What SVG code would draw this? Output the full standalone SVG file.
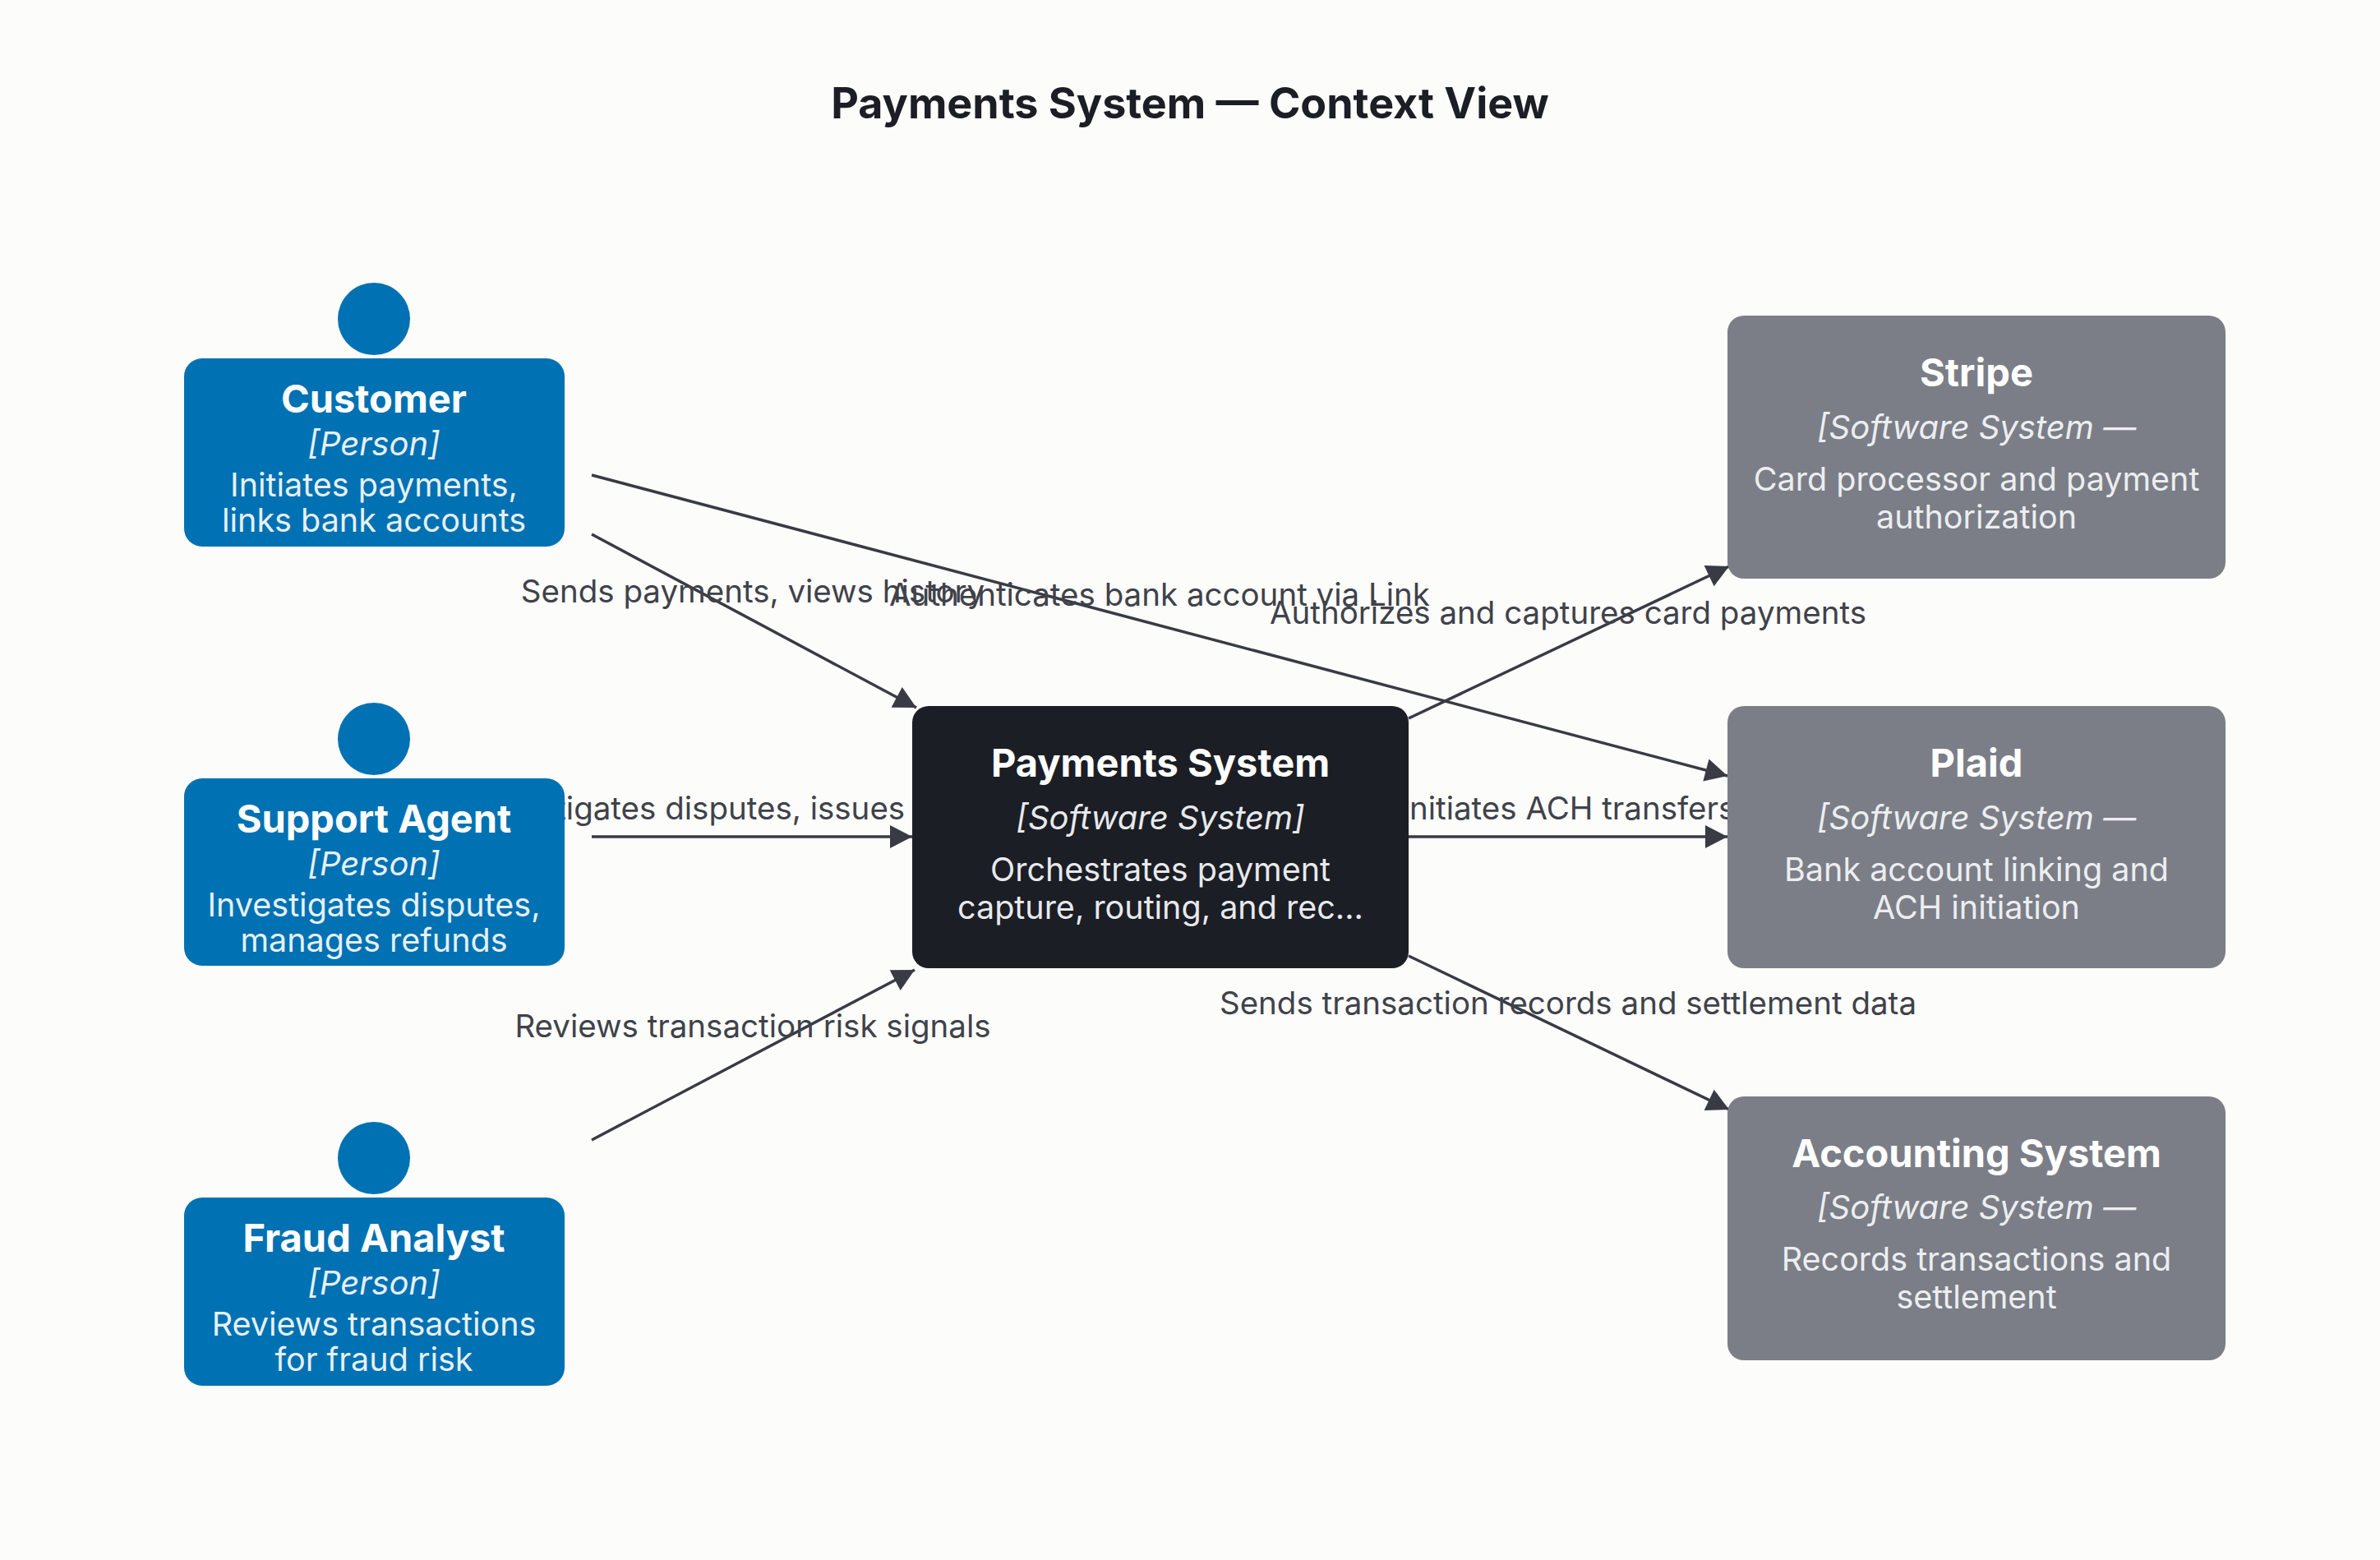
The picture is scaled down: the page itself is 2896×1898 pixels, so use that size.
<svg xmlns="http://www.w3.org/2000/svg" width="2896" height="1898" viewBox="0 0 2896 1898">
<style>
text{font-family:Inter,"Noto Sans","Liberation Sans",sans-serif;text-anchor:middle}
.t{font-size:47px;font-weight:700;fill:#fff}
.s{font-size:40px;font-style:italic}
.d{font-size:39.5px}
.p .s,.p .d{fill:#e6f0f7}
.x .s,.x .d{fill:#eceef0}
.c .s,.c .d{fill:#e8e9ec}
.e{font-size:38.5px;fill:#3f424a}
.ln{stroke:#383b44;stroke-width:3.5;fill:none;marker-end:url(#a)}
</style>
<defs><marker id="a" markerWidth="10" markerHeight="10" refX="9" refY="5" orient="auto" markerUnits="userSpaceOnUse" viewBox="0 0 10 10" style="overflow:visible"><path d="M-18,-9 L9,5 L-18,19 Z" fill="#383b44"/></marker></defs>
<rect width="2896" height="1898" fill="#fcfcfa"/>
<text x="1448" y="144" style="font-size:52px;font-weight:700;fill:#1b1e25">Payments System — Context View</text>
<g id="connectors">
<line class="ln" x1="720" y1="650" x2="1115" y2="861"/>
<text class="e" x="916" y="733">Sends payments, views history</text>
<line class="ln" x1="720" y1="578" x2="2102" y2="944"/>
<text class="e" x="1411" y="737">Authenticates bank account via Link</text>
<text class="e" x="916" y="997">Investigates disputes, issues refunds</text>
<line class="ln" x1="720" y1="1018" x2="1110" y2="1018"/>
<line class="ln" x1="720" y1="1387" x2="1113" y2="1180"/>
<text class="e" x="916" y="1262">Reviews transaction risk signals</text>
<line class="ln" x1="1714" y1="874" x2="2104" y2="689"/>
<text class="e" x="1908" y="759">Authorizes and captures card payments</text>
<text class="e" x="1908" y="997">Initiates ACH transfers</text>
<line class="ln" x1="1714" y1="1018" x2="2102" y2="1018"/>
<line class="ln" x1="1714" y1="1163" x2="2104" y2="1350"/>
<text class="e" x="1908" y="1234">Sends transaction records and settlement data</text>
</g>
<g id="customer" class="p">
<circle cx="455" cy="388" r="44" fill="#0071b2"/>
<rect x="224" y="436" width="463" height="229" rx="22" fill="#0071b2"/>
<text class="t" x="455" y="502">Customer</text>
<text class="s" x="455" y="554">[Person]</text>
<text class="d" x="455" y="604">Initiates payments,</text>
<text class="d" x="455" y="647">links bank accounts</text>
</g>
<g id="support" class="p">
<circle cx="455" cy="899" r="44" fill="#0071b2"/>
<rect x="224" y="947" width="463" height="228" rx="22" fill="#0071b2"/>
<text class="t" x="455" y="1013">Support Agent</text>
<text class="s" x="455" y="1065">[Person]</text>
<text class="d" x="455" y="1115">Investigates disputes,</text>
<text class="d" x="455" y="1158">manages refunds</text>
</g>
<g id="fraud" class="p">
<circle cx="455" cy="1409" r="44" fill="#0071b2"/>
<rect x="224" y="1457" width="463" height="229" rx="22" fill="#0071b2"/>
<text class="t" x="455" y="1523">Fraud Analyst</text>
<text class="s" x="455" y="1575">[Person]</text>
<text class="d" x="455" y="1625">Reviews transactions</text>
<text class="d" x="455" y="1668">for fraud risk</text>
</g>
<g id="payments" class="c">
<rect x="1110" y="859" width="604" height="319" rx="20" fill="#1b1e25"/>
<text class="t" x="1412" y="945">Payments System</text>
<text class="s" x="1412" y="1009">[Software System]</text>
<text class="d" x="1412" y="1072">Orchestrates payment</text>
<text class="d" x="1412" y="1118">capture, routing, and rec...</text>
</g>
<g id="stripe" class="x">
<rect x="2102" y="384" width="606" height="320" rx="20" fill="#7b7e87"/>
<text class="t" x="2405" y="470">Stripe</text>
<text class="s" x="2405" y="534">[Software System —</text>
<text class="d" x="2405" y="597">Card processor and payment</text>
<text class="d" x="2405" y="643">authorization</text>
</g>
<g id="plaid" class="x">
<rect x="2102" y="859" width="606" height="319" rx="20" fill="#7b7e87"/>
<text class="t" x="2405" y="945">Plaid</text>
<text class="s" x="2405" y="1009">[Software System —</text>
<text class="d" x="2405" y="1072">Bank account linking and</text>
<text class="d" x="2405" y="1118">ACH initiation</text>
</g>
<g id="accounting" class="x">
<rect x="2102" y="1334" width="606" height="321" rx="20" fill="#7b7e87"/>
<text class="t" x="2405" y="1420">Accounting System</text>
<text class="s" x="2405" y="1483">[Software System —</text>
<text class="d" x="2405" y="1546">Records transactions and</text>
<text class="d" x="2405" y="1592">settlement</text>
</g>
</svg>
